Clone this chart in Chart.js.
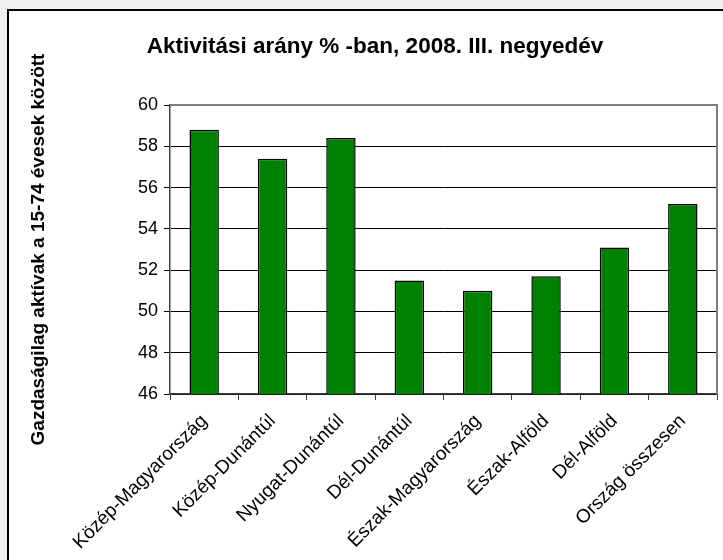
<!DOCTYPE html>
<html>
<head>
<meta charset="utf-8">
<script src="https://cdn.jsdelivr.net/npm/chart.js@4.4.1/dist/chart.umd.min.js"></script>
<style>
  html, body { margin: 0; padding: 0; background: #f0f0f0; overflow: hidden; }
  #wrap { position: relative; width: 723px; height: 560px; }
  #panel { position: absolute; left: 7px; top: 9px; width: 800px; height: 700px;
           background: #fff; border: 2px solid #000; }
  #bar-chart { position: absolute; left: 0; top: 0; }
</style>
</head>
<body>
<div id="wrap">
  <div id="panel"></div>
  <canvas id="bar-chart" width="723" height="560"></canvas>
</div>
<script>
const regions = ["Közép-Magyarország", "Közép-Dunántúl", "Nyugat-Dunántúl", "Dél-Dunántúl",
                 "Észak-Magyarország", "Észak-Alföld", "Dél-Alföld", "Ország összesen"];
const activityRate = [58.8, 57.4, 58.4, 51.5, 51.0, 51.7, 53.1, 55.2];
const yMin = 46;
const yMax = 60;
const yStep = 2;
const chartTitle = "Aktivitási arány % -ban, 2008. III. negyedév";
const yTitle = "Gazdaságilag aktívak a 15-74 évesek között";

const FONT = '"Liberation Sans", Arial, sans-serif';

// title drawn like the Excel one, centred over the chart body
const titlePlugin = {
  id: 'excelTitle',
  afterDraw(chart) {
    const ctx = chart.ctx;
    ctx.save();
    ctx.font = 'bold 22.5px ' + FONT;
    ctx.fillStyle = '#000';
    ctx.textAlign = 'center';
    ctx.textBaseline = 'alphabetic';
    ctx.fillText(chartTitle, 375, 53);
    ctx.restore();
  }
};

// grey frame on top/right of plot area
const framePlugin = {
  id: 'plotFrame',
  beforeDatasetsDraw(chart) {
    const a = chart.chartArea, ctx = chart.ctx;
    ctx.save();
    ctx.strokeStyle = '#808080';
    ctx.lineWidth = 2;
    ctx.beginPath();
    ctx.moveTo(a.left, a.top);
    ctx.lineTo(a.right, a.top);
    ctx.lineTo(a.right, a.bottom);
    ctx.stroke();
    ctx.restore();
  }
};

let ctx = document.getElementById("bar-chart").getContext("2d");
window.myBar = new Chart(ctx, {
  type: "bar",
  data: {
    labels: regions,
    datasets: [{
      data: activityRate,
      backgroundColor: "#008000",
      borderColor: "#000",
      borderWidth: 1.5,
      categoryPercentage: 1,
      barPercentage: 0.43
    }]
  },
  options: {
    responsive: false,
    animation: false,
    devicePixelRatio: 1,
    layout: { padding: { top: 105, right: 6, left: 8, bottom: 0 } },
    plugins: {
      legend: { display: false },
      title: { display: false },
      tooltip: { enabled: false }
    },
    scales: {
      x: {
        grid: {
          offset: true,
          drawOnChartArea: false,
          color: '#404040',
          tickLength: 6
        },
        border: { color: '#404040', width: 1.5 },
        ticks: {
          maxRotation: 45,
          minRotation: 45,
          autoSkip: false,
          padding: 10,
          color: '#000',
          font: { family: FONT, size: 19 }
        },
        afterFit: s => { s.height = 166; }
      },
      y: {
        min: yMin,
        max: yMax,
        ticks: {
          stepSize: yStep,
          padding: 6,
          color: '#000',
          font: { family: FONT, size: 18 }
        },
        grid: {
          color: c => (c.tick && c.tick.value === yMax) ? '#808080' : '#000',
          tickColor: '#000',
          tickLength: 6
        },
        border: { color: '#404040', width: 1.5 },
        title: {
          display: true,
          text: yTitle,
          color: '#000',
          padding: { top: 19, bottom: 0 },
          font: { family: FONT, size: 19, weight: 'bold' }
        },
        afterFit: s => { s.width = 162; }
      }
    }
  },
  plugins: [framePlugin, titlePlugin]
});
</script>
</body>
</html>
